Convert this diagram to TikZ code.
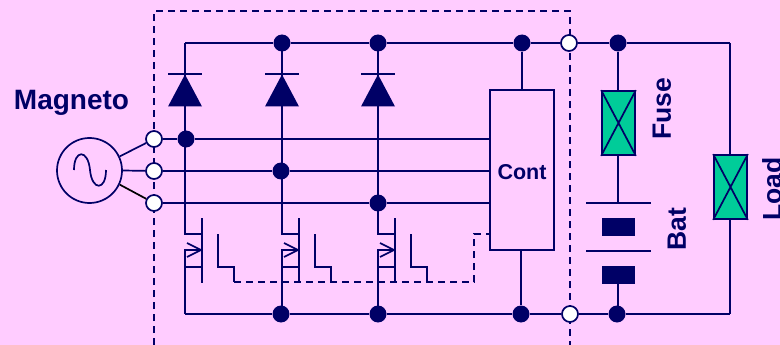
\documentclass[tikz,border=0pt]{standalone}
\usepackage{fontspec}
\setmainfont{Liberation Sans}
\definecolor{navy}{HTML}{000066}
\definecolor{pinkbg}{HTML}{FFCCFF}
\definecolor{fusegreen}{HTML}{00CC99}
\tikzset{
  wire/.style={draw=navy,line width=1.7pt},
  dashwire/.style={wire,dash pattern=on 7pt off 5pt},
  dot/.style={circle,fill=navy,inner sep=0pt,minimum size=17pt},
  port/.style={circle,draw=navy,line width=1.7pt,fill=white,inner sep=0pt,minimum size=16pt},
  fusebox/.style={wire,fill=fusegreen,inner sep=0pt,minimum width=33pt,minimum height=64pt},
  plate/.style={fill=navy,inner sep=0pt,minimum width=65pt,minimum height=1.7pt},
  cell/.style={fill=navy,inner sep=0pt,minimum width=33pt,minimum height=18pt},
  lbl/.style={text=navy,inner sep=0pt,font=\bfseries\fontsize{26.5}{27}\selectfont},
}
\begin{document}
\begin{tikzpicture}[x=1pt,y=-1pt]
  \useasboundingbox (0,0) rectangle (780,345);
  \fill[pinkbg] (0,0) rectangle (780,345);

  % Module outline, drawn first so it goes behind everything
  \draw[dashwire] (154,345) -- (154,11) -- (570,11) -- (570,345);

  % Generator and its terminals
  \node[circle,wire,inner sep=0pt,minimum size=65pt] (gen) at (89.5,170.5) {};
  \draw[wire] (74,170) .. controls (74,149) and (88,149) .. (90,170)
    .. controls (92,191) and (106,191) .. (106,170);
  \node[port] (pa) at (154,139) {};
  \node[port] (pb) at (154,171) {};
  \node[port] (pc) at (154,203) {};
  \draw[wire] (gen.25) -- (pa);
  \draw[wire] (gen.east) -- (pb);
  \draw[line width=1.7pt,black] (gen.-25) -- (pc);
  \node[lbl,font=\bfseries\fontsize{28}{28}\selectfont] (magneto) at (71.5,103) {Magneto};

  % Controller
  \node[wire,inner sep=0pt,minimum width=64pt,minimum height=160pt] (cont) at (522,170) {};
  \node[text=navy,inner sep=0pt,font=\bfseries\fontsize{21.5}{22}\selectfont] (contlabel) at (522,172) {Cont};

  % Rails
  \coordinate (topleft) at (185,43);
  \coordinate (botleft) at (185,314);
  \coordinate (topright) at (730,43);
  \coordinate (botright) at (730,314);
  \node[dot] (tb) at (282,43) {};
  \node[dot] (tc) at (378,43) {};
  \node[dot] (tcont) at (522,43) {};
  \node[port] (tout) at (569,43) {};
  \node[dot] (tfuse) at (618,43) {};
  \node[dot] (bb) at (281,314) {};
  \node[dot] (bc) at (378,314) {};
  \node[dot] (bcont) at (521,314) {};
  \node[port] (bout) at (570,314) {};
  \node[dot] (bbat) at (617,314) {};
  \draw[wire] (topleft) -- (tb) -- (tc) -- (tcont) -- (tout) -- (tfuse) -- (topright);
  \draw[wire] (botleft) -- (bb) -- (bc) -- (bcont) -- (bout) -- (bbat) -- (botright);
  \coordinate (heavyl) at (538,43);
  \coordinate (heavyr) at (586,43);
  \draw[wire,line width=2.6pt] (heavyl) -- (tout) -- (heavyr);
  \draw[wire] (tcont) -- (tcont|-cont.north);
  \draw[wire] (cont.south-|bcont) -- (bcont);

  % Phase lines
  \node[dot] (da) at (186,139) {};
  \node[dot] (db) at (281,171) {};
  \node[dot] (dc) at (378,203) {};
  \draw[wire] (pa) -- (da) -- (da-|cont.west);
  \draw[wire] (pb) -- (db) -- (db-|cont.west);
  \draw[wire] (pc) -- (dc) -- (dc-|cont.west);

  % Diodes and transistors
  \foreach \x in {185,282,378} {
    \draw[wire] (\x,43) -- (\x,234) -- ({\x+17},234);
    \draw[wire] ({\x-17},74) -- ({\x+17},74);
    \fill[navy] (\x,74.5) -- ({\x+17},106.5) -- ({\x-17},106.5) -- cycle;
    \draw[wire] ({\x+17},218) -- ({\x+17},283);
    \draw[wire] ({\x+17},250) -- (\x,250) -- (\x,314);
    \draw[wire] (\x,267) -- ({\x+17},267);
    \draw[wire] ({\x+2},243) -- ({\x+16},250) -- ({\x+2},257);
    \draw[wire] ({\x+33},234) -- ({\x+33},267) -- ({\x+49},267) -- ({\x+49},282);
  }

  % Gate drive
  \coordinate (gatel) at (234,282);
  \coordinate (gatec) at (474,282);
  \coordinate (gateu) at (474,234);
  \draw[dashwire] (gatel) -- (gatec) -- (gateu) -- (gateu-|cont.west);

  % Fuse, battery, load
  \node[fusebox] (fuse) at (618.5,123) {};
  \draw[wire] (fuse.north west) -- (fuse.south east) (fuse.north east) -- (fuse.south west);
  \node[plate] (plateu) at (618.5,203) {};
  \node[cell] (cellu) at (618.5,227) {};
  \node[plate] (platel) at (618.5,251) {};
  \node[cell] (celll) at (618.5,275) {};
  \node[fusebox] (load) at (730.5,187) {};
  \draw[wire] (load.north west) -- (load.south east) (load.north east) -- (load.south west);
  \draw[wire] (tfuse) -- (tfuse|-fuse.north);
  \draw[wire] (tfuse|-fuse.south) -- (tfuse|-plateu);
  \draw[wire] (tfuse|-celll.south) -- (tfuse|-bbat);
  \draw[wire] (topright) -- (topright|-load.north);
  \draw[wire] (topright|-load.south) -- (botright);
  \node[lbl,rotate=90] (fuselabel) at (662,108.5) {Fuse};
  \node[lbl,rotate=90] (batlabel) at (677,229) {Bat};
  \node[lbl,rotate=90] (loadlabel) at (772,189) {Load};
\end{tikzpicture}
\end{document}
